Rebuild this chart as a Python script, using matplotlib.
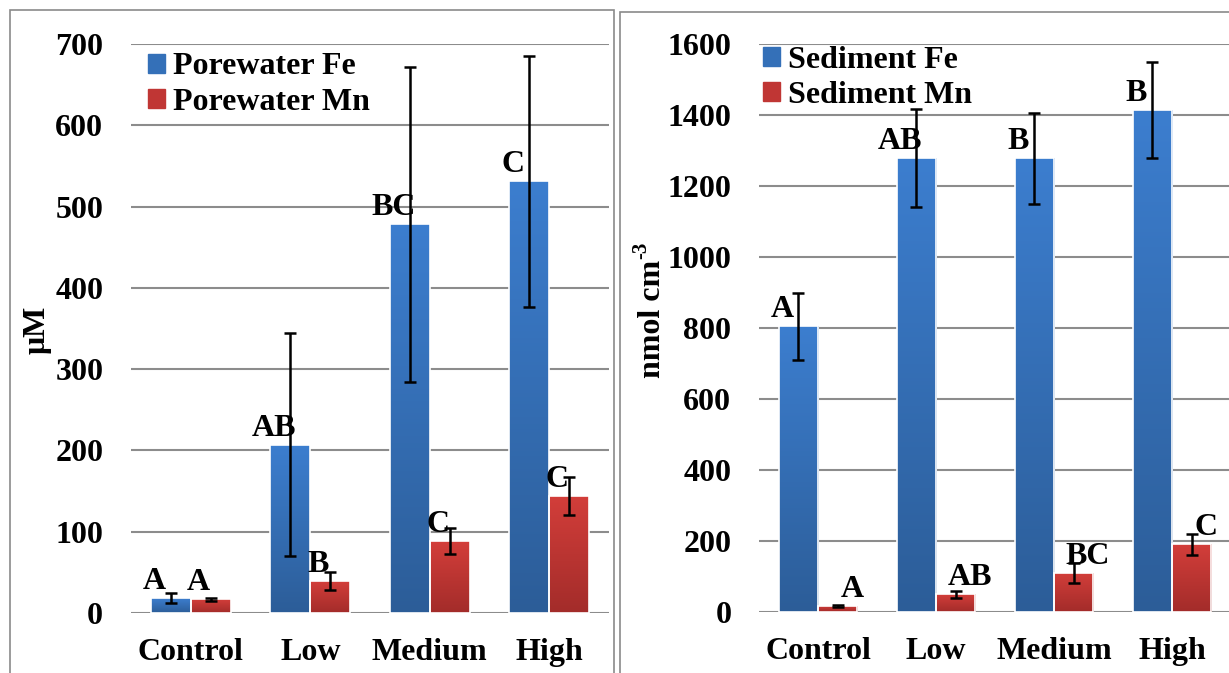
import matplotlib
matplotlib.use('Agg')
import matplotlib.pyplot as plt
import matplotlib.patches as mpatches
from matplotlib.colors import LinearSegmentedColormap
import numpy as np

plt.rcParams['font.family'] = ['Liberation Serif', 'DejaVu Serif']
plt.rcParams['font.weight'] = 'bold'

groups = ['Control', 'Low', 'Medium', 'High']

# porewater (uM)
pw_fe = [18, 207, 478, 531]
pw_fe_err = [6, 137, 194, 154]
pw_mn = [17, 39, 88, 144]
pw_mn_err = [2, 11, 16, 23]
pw_fe_lab = ['A', 'AB', 'BC', 'C']
pw_mn_lab = ['A', 'B', 'C', 'C']

# sediment (nmol cm-3)
sed_fe = [805, 1278, 1278, 1413]
sed_fe_err = [95, 138, 128, 135]
sed_mn = [17, 50, 111, 191]
sed_mn_err = [4, 10, 28, 30]
sed_fe_lab = ['A', 'AB', 'B', 'B']
sed_mn_lab = ['A', 'AB', 'BC', 'C']

FS = 23
blue_top, blue_bot = '#3c7ecf', '#2c5d98'
red_top, red_bot = '#d33e3a', '#a32c2a'


def grad_bars(ax, bars, top, bot):
    cmap = LinearSegmentedColormap.from_list('g', [bot, top])
    grad = np.linspace(0, 1, 256).reshape(-1, 1)
    for b in bars:
        x, y = b.get_xy()
        w, h = b.get_width(), b.get_height()
        im = ax.imshow(grad, cmap=cmap, origin='lower', aspect='auto',
                       extent=[x, x + w, y, y + h], zorder=2)
        im.set_clip_path(b)
        b.set_facecolor('none')


def panel(ax, fe, fe_err, mn, mn_err, fe_lab, mn_lab, ymax, step,
          names, mn_dx, leg_anchor):
    x = np.arange(len(groups))
    w = 1 / 3
    b1 = ax.bar(x - w / 2, fe, w, zorder=3, linewidth=1.2, edgecolor='white')
    b2 = ax.bar(x + w / 2, mn, w, zorder=3, linewidth=1.2, edgecolor='white')
    grad_bars(ax, b1, blue_top, blue_bot)
    grad_bars(ax, b2, red_top, red_bot)
    ax.errorbar(x - w / 2, fe, yerr=fe_err, fmt='none', ecolor='black',
                elinewidth=1.8, capsize=4.5, capthick=1.8, zorder=5)
    ax.errorbar(x + w / 2, mn, yerr=mn_err, fmt='none', ecolor='black',
                elinewidth=1.8, capsize=4.5, capthick=1.8, zorder=5)
    for i in range(len(groups)):
        ax.annotate(fe_lab[i], (x[i] - w / 2 - 0.14, fe[i]), xytext=(0, 9),
                    textcoords='offset pixels', ha='center', va='baseline',
                    fontsize=FS, fontweight='bold', zorder=6)
        ax.annotate(mn_lab[i], (x[i] + w / 2 + mn_dx, mn[i]), xytext=(0, 9),
                    textcoords='offset pixels', ha='center', va='baseline',
                    fontsize=FS, fontweight='bold', zorder=6)
    ax.set_xlim(-0.5, len(groups) - 0.5)
    ax.set_ylim(0, ymax)
    ax.set_yticks(np.arange(0, ymax + 1, step))
    ax.set_xticks(x)
    ax.set_xticklabels(groups)
    ax.yaxis.grid(True, color='#8c8c8c', linewidth=1.5)
    ax.set_axisbelow(True)
    for s in ax.spines.values():
        s.set_visible(False)
    ax.tick_params(axis='y', length=0, pad=20, labelsize=FS)
    ax.tick_params(axis='x', length=0, pad=18, labelsize=FS)
    handles = [mpatches.Patch(color='#3470b8'), mpatches.Patch(color='#c03634')]
    ax.legend(handles, names, loc='upper left', frameon=False,
              fontsize=FS, handlelength=0.55, handleheight=0.55,
              handletextpad=0.25, labelspacing=0.2, borderaxespad=0,
              borderpad=0, bbox_to_anchor=leg_anchor)


fig = plt.figure(figsize=(12.29, 6.73), dpi=100)
ax1 = fig.add_axes([0.1066, 0.0892, 0.389, 0.8455])
ax2 = fig.add_axes([0.6176, 0.0906, 0.384, 0.844])

panel(ax1, pw_fe, pw_fe_err, pw_mn, pw_mn_err, pw_fe_lab, pw_mn_lab,
      700, 100, ['Porewater Fe', 'Porewater Mn'], -0.1, (0.035, 0.985))
panel(ax2, sed_fe, sed_fe_err, sed_mn, sed_mn_err, sed_fe_lab, sed_mn_lab,
      1600, 200, ['Sediment Fe', 'Sediment Mn'], 0.12, (0.008, 0.997))

fig.text(37 / 1229, 1 - 330 / 673, 'μM', rotation=90, ha='center',
         va='center', fontsize=FS, fontweight='bold')

# right y label: "nmol cm" with a raised "-3"
ylab = fig.text(652 / 1229, 1 - 378 / 673, 'nmol cm', rotation=90,
                ha='center', va='bottom', fontsize=FS, fontweight='bold')
fig.canvas.draw()
bb = ylab.get_window_extent(fig.canvas.get_renderer())
fig.text(641 / 1229, (bb.y1 + 1) / 673, '-3', rotation=90,
         ha='center', va='bottom', fontsize=15, fontweight='bold')

# panel frames
fig.patches.append(mpatches.Rectangle((10 / 1229, -0.05), 604 / 1229, 1.035,
                                      transform=fig.transFigure, fill=False,
                                      edgecolor='#8a8a8a', linewidth=1.2))
fig.patches.append(mpatches.Rectangle((620 / 1229, -0.05), 1, 1.032,
                                      transform=fig.transFigure, fill=False,
                                      edgecolor='#8a8a8a', linewidth=1.2))

fig.savefig('out.png', dpi=100)
